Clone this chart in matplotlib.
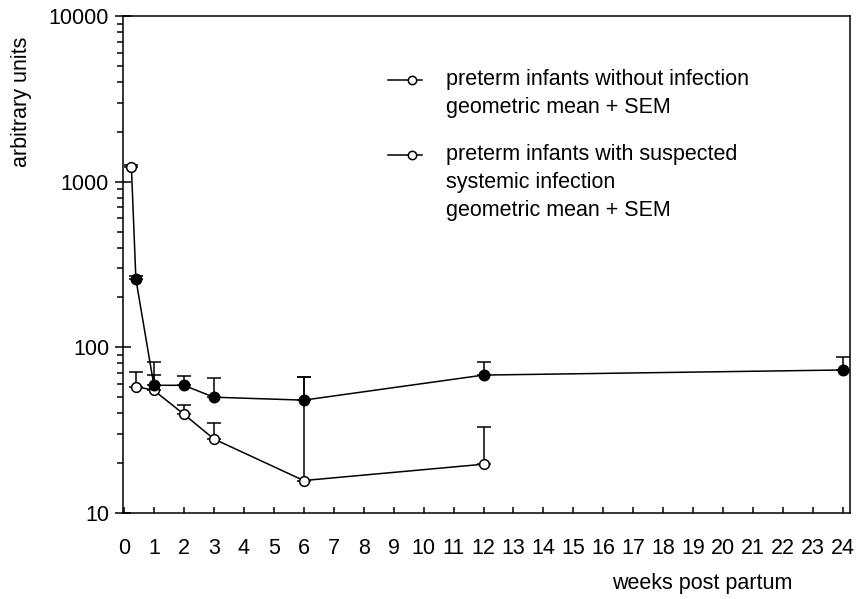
import matplotlib.pyplot as plt
import numpy as np
from matplotlib.lines import Line2D

plt.rcParams['font.family'] = ['Liberation Sans', 'DejaVu Sans']
plt.rcParams['font.size'] = 15.5

# preterm infants with suspected systemic infection (first point printed as open circle)
weeks_inf = np.array([0.25, 0.4, 1, 2, 3, 6, 12, 24])
mean_inf = np.array([1230, 258, 59, 59, 50, 48, 68, 73])
upper_inf = np.array([1260, 268, 82, 67, 65, 66, 82, 87])

# preterm infants without infection
weeks_ctl = np.array([0.4, 1, 2, 3, 6, 12])
mean_ctl = np.array([58, 55, 39.5, 28, 15.7, 19.7])
upper_ctl = np.array([71, 68, 45, 35, 66, 33])

x_ticks = list(range(0, 25))
y_ticks = [10, 100, 1000, 10000]
y_ticklabels = ['10', '100', '1000', '10000']

label_ctl = 'preterm infants without infection\ngeometric mean + SEM'
label_inf = 'preterm infants with suspected\nsystemic infection\ngeometric mean + SEM'

fig = plt.figure(figsize=(8.56, 5.99), dpi=100)
ax = fig.add_axes([123 / 856, 1 - 513 / 599, 727 / 856, 497 / 599])

lw = 1.1
ms = 7

# error bars (upper only)
ax.errorbar(weeks_ctl, mean_ctl, yerr=[np.zeros_like(mean_ctl), upper_ctl - mean_ctl],
            fmt='none', ecolor='k', elinewidth=lw, capsize=4.7, capthick=lw, zorder=2)
ax.errorbar(weeks_inf, mean_inf, yerr=[np.zeros_like(mean_inf), upper_inf - mean_inf],
            fmt='none', ecolor='k', elinewidth=lw, capsize=4.7, capthick=lw, zorder=2)

# lines
ax.plot(weeks_ctl, mean_ctl, '-', color='k', lw=lw, zorder=3)
ax.plot(weeks_inf, mean_inf, '-', color='k', lw=lw, zorder=3)

# markers
ax.plot(weeks_ctl, mean_ctl, 'o', ms=ms, mfc='white', mec='k', mew=lw, zorder=4)
ax.plot(weeks_inf[1:], mean_inf[1:], 'o', ms=ms + 0.5, mfc='k', mec='k', mew=lw, zorder=4)
ax.plot(weeks_inf[:1], mean_inf[:1], 'o', ms=ms, mfc='white', mec='k', mew=lw, zorder=4)

ax.set_yscale('log')
ax.set_ylim(10, 10000)
ax.set_xlim(-0.03, 24.23)
ax.set_yticks(y_ticks)
ax.set_yticklabels(y_ticklabels)
ax.set_xticks(x_ticks)
ax.set_xticklabels([str(t) for t in x_ticks])

ax.tick_params(axis='x', direction='in', length=4.5, width=lw, pad=18)
ax.tick_params(axis='y', which='major', direction='inout', length=12, width=lw, pad=4)
ax.tick_params(axis='y', which='minor', direction='out', length=4.5, width=lw)
for s in ax.spines.values():
    s.set_linewidth(lw)

# legend drawn by hand
for yy, lab in [(0.871, label_ctl), (0.720, label_inf)]:
    ax.add_line(Line2D([0.3645, 0.411], [yy, yy], color='k', lw=lw, transform=ax.transAxes))
    ax.add_line(Line2D([0.397], [yy], marker='o', ms=ms - 1, mfc='white', mec='k', mew=lw,
                       transform=ax.transAxes))
    ax.text(0.444, yy + 0.022, lab, transform=ax.transAxes, va='top', ha='left',
            linespacing=1.42)

fig.text(22 / 856, 1 - 102 / 599, 'arbitrary units', rotation=90, ha='center', va='center')
fig.text(702 / 856, 1 - 584 / 599, 'weeks post partum', ha='center', va='center')

fig.savefig('out.png', dpi=100)
